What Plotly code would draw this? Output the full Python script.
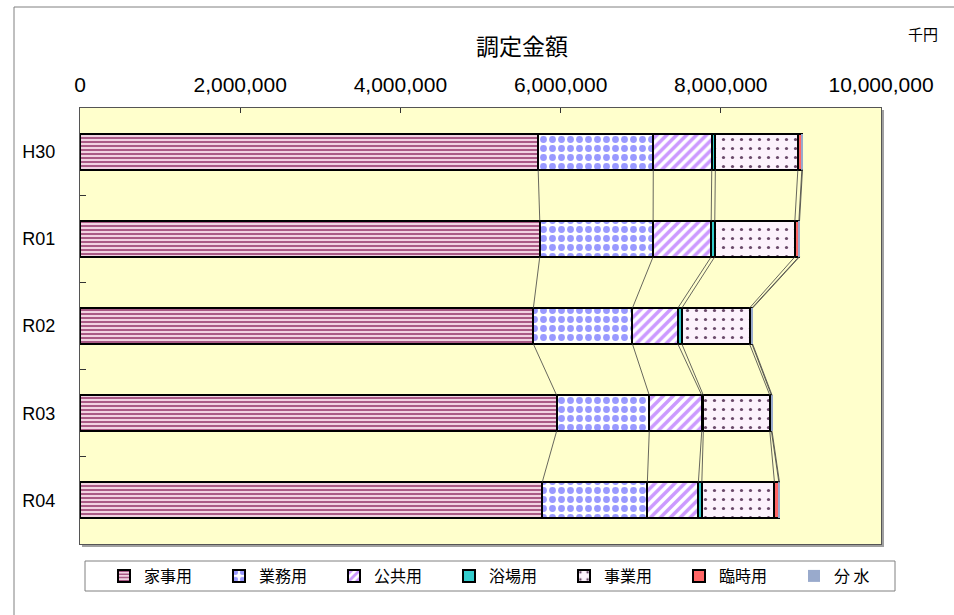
import numpy as np
import plotly.graph_objects as go

# ---- data (千円) ----
categories = ["H30", "R01", "R02", "R03", "R04"]
series_names = ["家事用", "業務用", "公共用", "浴場用", "事業用", "臨時用", "分 水"]
kaji = [5720000, 5740000, 5660000, 5950000, 5770000]
gyomu = [1437000, 1415000, 1237000, 1157000, 1313000]
kokyo = [730000, 725000, 567000, 655000, 637000]
yokujo = [45000, 45000, 50000, 20000, 43000]
jigyo = [1030000, 1000000, 845000, 830000, 907000]
rinji = [50000, 50000, 30000, 20000, 55000]
bunsui = [8000, 8000, 8000, 8000, 8000]
x_tickvals = [0, 2000000, 4000000, 6000000, 8000000, 10000000]
x_ticktext = ["0", "2,000,000", "4,000,000", "6,000,000", "8,000,000", "10,000,000"]

values = [kaji, gyomu, kokyo, yokujo, jigyo, rinji, bunsui]

styles = [
    dict(color="#C0709A", pattern=dict(shape="-", fgcolor="#A24C7C", bgcolor="#F2D2E2", size=4, solidity=0.45)),
    dict(color="#9999FF", pattern=dict(shape=".", fgcolor="#9999FF", bgcolor="#FFFFFF", size=9, solidity=0.45)),
    dict(color="#CC99FF", pattern=dict(shape="/", fgcolor="#CC99FF", bgcolor="#FFFFFF", size=7, solidity=0.5)),
    dict(color="#33CCCC", pattern=None),
    dict(color="#F8ECF8", pattern=dict(shape=".", fgcolor="#6A4A6A", bgcolor="#FCF2FC", size=9, solidity=0.1)),
    dict(color="#FF6666", pattern=None),
    dict(color="#99AACC", pattern=None),
]

ypos = list(range(len(categories)))
bar_w = 0.413
hw = bar_w / 2

fig = go.Figure()

# series lines (connect segment ends between bars)
cum = np.cumsum(np.array(values, dtype=float), axis=0)
lx, ly = [], []
for s in range(cum.shape[0]):
    for i in range(len(categories) - 1):
        lx += [cum[s][i], cum[s][i + 1], None]
        ly += [ypos[i] + hw, ypos[i + 1] - hw, None]
fig.add_trace(go.Scatter(x=lx, y=ly, mode="lines", line=dict(color="#404040", width=0.8),
                         showlegend=False, hoverinfo="skip"))

for name, vals, st in zip(series_names, values, styles):
    marker = dict(color=st["color"],
                  line=dict(color="#000000", width=0 if name == "分 水" else 2))
    if st["pattern"]:
        marker["pattern"] = dict(fillmode="replace", **st["pattern"])
    fig.add_trace(go.Bar(y=ypos, x=vals, name=name, orientation="h", width=bar_w,
                         marker=marker))

W, H = 954, 615
L, R, T, B = 80, 954 - 881, 108, 615 - 544
pw, ph = W - L - R, H - T - B

def px(x):
    return (x - L) / pw

def py(y):
    return (H - B - y) / ph

shapes = [
    # outer chart border
    dict(type="rect", xref="paper", yref="paper", x0=px(14), x1=px(990), y0=py(640), y1=py(7),
         line=dict(color="#808080", width=1), fillcolor="rgba(0,0,0,0)", layer="below"),
    # plot area shadow
    dict(type="line", xref="paper", yref="paper", x0=px(883), x1=px(883), y0=py(546), y1=py(110),
         line=dict(color="#A0A0A0", width=2)),
    dict(type="line", xref="paper", yref="paper", x0=px(82), x1=px(884), y0=py(546), y1=py(546),
         line=dict(color="#A0A0A0", width=2)),
    # legend box
    dict(type="rect", xref="paper", yref="paper", x0=px(85), x1=px(895), y0=py(591), y1=py(561),
         line=dict(color="#808080", width=1), fillcolor="rgba(0,0,0,0)"),
]

fig.update_layout(
    width=W, height=H,
    margin=dict(l=L, r=R, t=T, b=B, pad=0),
    barmode="stack",
    paper_bgcolor="#FFFFFF",
    plot_bgcolor="#FFFFCC",
    font=dict(family="Liberation Sans, Noto Sans CJK JP, sans-serif", color="#000000", size=15),
    showlegend=True,
    legend=dict(orientation="h", x=px(104), xanchor="left", y=py(576), yanchor="middle",
                bgcolor="rgba(0,0,0,0)", borderwidth=0, entrywidth=70, entrywidthmode="pixels",
                font=dict(family="Noto Sans CJK JP, sans-serif", size=16), traceorder="normal"),
    xaxis=dict(side="top", range=[0, 10000000], tickvals=x_tickvals, ticktext=x_ticktext,
               ticks="inside", ticklen=5, tickcolor="#333333", showgrid=False, zeroline=False,
               showline=True, linecolor="#555555", linewidth=1, mirror=True,
               tickfont=dict(size=21), ticklabelstandoff=7, fixedrange=True),
    yaxis=dict(range=[4.5, -0.5], tickvals=ypos, ticktext=categories, ticks="",
               showgrid=False, zeroline=False, showline=True, linecolor="#555555", linewidth=1,
               mirror=True, tickfont=dict(size=18), ticklabelstandoff=20,
               minor=dict(tickvals=[0.5, 1.5, 2.5, 3.5], ticks="inside", ticklen=6,
                          tickcolor="#333333", showgrid=False),
               fixedrange=True),
    shapes=shapes,
    annotations=[
        dict(text="調定金額", x=px(522), y=py(45), xref="paper", yref="paper", showarrow=False,
             font=dict(family="Noto Sans CJK JP, sans-serif", size=23), xanchor="center", yanchor="middle"),
        dict(text="千円", x=px(923), y=py(33), xref="paper", yref="paper", showarrow=False,
             font=dict(family="Noto Sans CJK JP, sans-serif", size=15), xanchor="center", yanchor="middle"),
    ],
)

fig.write_html("out.html", config={"displayModeBar": False},
               post_script="document.body.style.margin='0px';document.body.style.overflow='hidden';")
